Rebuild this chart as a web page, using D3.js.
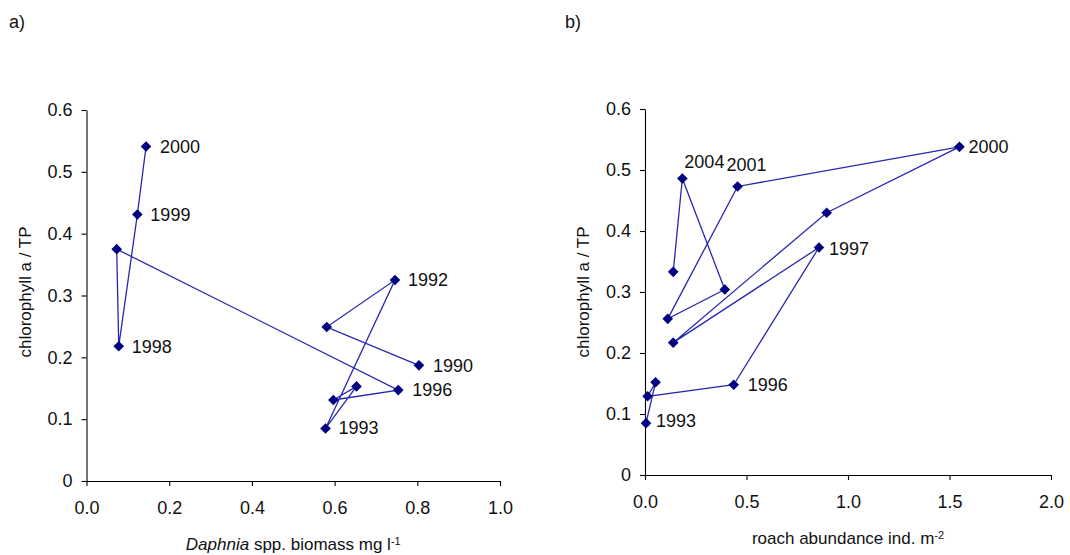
<!DOCTYPE html>
<html>
<head>
<meta charset="utf-8">
<script src="https://cdn.jsdelivr.net/npm/d3@7/dist/d3.min.js"></script>
<style>
  html, body { margin: 0; padding: 0; background: #fff; }
  svg { display: block; }
  text { font-family: "Liberation Sans", Arial, sans-serif; fill: #111; }
</style>
</head>
<body>
<svg id="chart" width="1070" height="555"></svg>
<script>
// ---- Data: panel a (Daphnia biomass vs chl a / TP), years in chronological order
const yearsA = [1990, 1991, 1992, 1993, 1994, 1995, 1996, 1997, 1998, 1999, 2000];
const daphnia = [0.804, 0.581, 0.746, 0.578, 0.653, 0.597, 0.754, 0.073, 0.078, 0.123, 0.144];
const chlTpA  = [0.187, 0.249, 0.325, 0.085, 0.153, 0.131, 0.147, 0.375, 0.218, 0.431, 0.541];
const labelledA = [1990, 1992, 1993, 1996, 1998, 1999, 2000];

// ---- Data: panel b (roach abundance vs chl a / TP)
const yearsB = [1993, 1994, 1995, 1996, 1997, 1998, 1999, 2000, 2001, 2002, 2003, 2004, 2005];
const roach  = [0.005, 0.052, 0.013, 0.437, 0.857, 0.139, 0.895, 1.549, 0.456, 0.112, 0.393, 0.184, 0.139];
const chlTpB = [0.085, 0.152, 0.129, 0.148, 0.373, 0.217, 0.430, 0.538, 0.473, 0.256, 0.304, 0.486, 0.333];
const labelledB = [1993, 1996, 1997, 2000, 2001, 2004];

const yTicks = [0, 0.1, 0.2, 0.3, 0.4, 0.5, 0.6];
const xTicksA = [0, 0.2, 0.4, 0.6, 0.8, 1.0];
const xTicksB = [0, 0.5, 1.0, 1.5, 2.0];

// ---- Layout / style (not data)
const FS = 18;
const lineColor = "#2828b0";
const markColor = "#000080";
const labelOffsetsA = { 1990: [14, 0], 1992: [13, 0], 1993: [13, -1], 1996: [14, 0], 1998: [13, 0], 1999: [13, 0], 2000: [14, 0] };
const labelOffsetsB = { 1993: [10, -2], 1996: [14, 0], 1997: [10, 1], 2000: [9, 0], 2001: [-11, -22], 2004: [2, -17] };

const svg = d3.select("#chart");

function panel(cfg) {
  const g = svg.append("g");
  const x = d3.scaleLinear().domain(cfg.xDomain).range(cfg.xRange);
  const y = d3.scaleLinear().domain([0, 0.6]).range(cfg.yRange);

  // y axis
  const ya = g.append("g").attr("transform", `translate(${cfg.xRange[0]},0)`)
    .call(d3.axisLeft(y).tickValues(yTicks).tickSize(5).tickSizeOuter(0).tickPadding(9)
      .tickFormat(d => d === 0 ? "0" : d3.format(".1f")(d)));
  // x axis
  const xa = g.append("g").attr("transform", `translate(0,${cfg.yRange[0]})`)
    .call(d3.axisBottom(x).tickValues(cfg.xTicks).tickSize(5).tickSizeOuter(0).tickPadding(15)
      .tickFormat(d3.format(".1f")));
  [ya, xa].forEach(a => {
    a.selectAll("path.domain").attr("stroke", "#000").attr("stroke-width", 1.1);
    a.selectAll(".tick line").attr("stroke", "#000").attr("stroke-width", 1.1);
    a.selectAll("text").style("font-size", FS + "px").style("font-family", '"Liberation Sans", Arial, sans-serif').attr("fill", "#111");
  });

  // connecting line
  const pts = cfg.xs.map((v, i) => [v, cfg.ys[i], cfg.years[i]]);
  g.append("path")
    .datum(pts)
    .attr("fill", "none")
    .attr("stroke", lineColor)
    .attr("stroke-width", 1.3)
    .attr("d", d3.line().x(d => x(d[0])).y(d => y(d[1])));

  // diamond markers
  const sym = d3.symbol().type(d3.symbolDiamond2).size(72);
  g.selectAll("path.mk").data(pts).enter().append("path")
    .attr("class", "mk")
    .attr("d", sym)
    .attr("fill", markColor)
    .attr("transform", d => `translate(${x(d[0])},${y(d[1])})`);

  // year labels
  g.selectAll("text.yr").data(pts.filter(d => cfg.labelled.includes(d[2]))).enter().append("text")
    .attr("class", "yr")
    .attr("x", d => x(d[0]) + cfg.offsets[d[2]][0])
    .attr("y", d => y(d[1]) + cfg.offsets[d[2]][1])
    .attr("dy", "0.35em")
    .style("font-size", FS + "px")
    .text(d => d[2]);

  // y axis title
  g.append("text")
    .attr("transform", `translate(${cfg.yTitleX},292) rotate(-90)`)
    .attr("text-anchor", "middle")
    .attr("dy", "0.35em")
    .style("font-size", (FS - 1) + "px")
    .text("chlorophyll a / TP");

  // x axis title
  const t = g.append("text")
    .attr("x", (cfg.xRange[0] + cfg.xRange[1]) / 2)
    .attr("y", cfg.xTitleY)
    .attr("text-anchor", "middle")
    .style("font-size", (FS - 1) + "px");
  cfg.xTitle(t);

  // panel letter
  svg.append("text").attr("x", cfg.letterX).attr("y", 28).style("font-size", FS + "px").text(cfg.letter);
}

panel({
  xDomain: [0, 1], xRange: [86.5, 500], yRange: [481, 110], xTicks: xTicksA,
  xs: daphnia, ys: chlTpA, years: yearsA, labelled: labelledA, offsets: labelOffsetsA,
  yTitleX: 25, xTitleY: 550, letter: "a)", letterX: 9,
  xTitle: t => {
    t.append("tspan").style("font-style", "italic").text("Daphnia");
    t.append("tspan").text(" spp. biomass mg l");
    t.append("tspan").attr("dy", "-0.45em").style("font-size", "11px").text("-1");
  }
});

panel({
  xDomain: [0, 2], xRange: [645, 1051], yRange: [475, 109], xTicks: xTicksB,
  xs: roach, ys: chlTpB, years: yearsB, labelled: labelledB, offsets: labelOffsetsB,
  yTitleX: 583, xTitleY: 544, letter: "b)", letterX: 565,
  xTitle: t => {
    t.append("tspan").text("roach abundance ind. m");
    t.append("tspan").attr("dy", "-0.45em").style("font-size", "11px").text("-2");
  }
});
</script>
</body>
</html>
